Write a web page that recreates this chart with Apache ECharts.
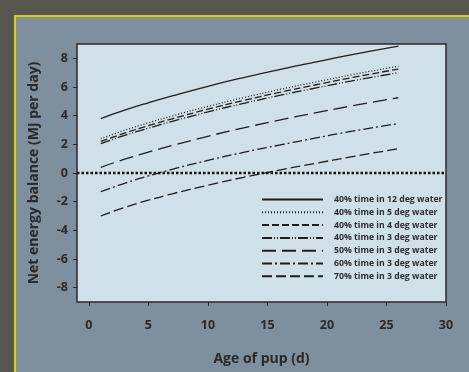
<!DOCTYPE html>
<html>
<head>
<meta charset="utf-8">
<script src="https://cdn.jsdelivr.net/npm/echarts@6/dist/echarts.min.js"></script>
<style>
html, body { margin: 0; padding: 0; background: #57564e; }
#panel { position: absolute; left: 14px; top: 15px; width: 455px; height: 357px;
  background: #7e8f9d; border-top: 2px solid #d6d20c; border-left: 2px solid #d6d20c; box-sizing: border-box; }
#chart { position: absolute; left: 0; top: 0; width: 469px; height: 372px; }
</style>
</head>
<body>
<div id="panel"></div>
<div id="chart"></div>
<script>
// age of pup (d)
var days = [1, 3, 5, 7, 10, 13, 16, 19, 22, 26];
// net energy balance (MJ per day) per scenario
var t40w12 = [3.8, 4.38, 4.9, 5.38, 6.05, 6.66, 7.22, 7.74, 8.24, 8.85];
var t40w5 = [2.4, 2.98, 3.5, 3.98, 4.65, 5.26, 5.82, 6.34, 6.84, 7.45];
var t40w4 = [2.2, 2.78, 3.3, 3.78, 4.45, 5.06, 5.62, 6.14, 6.64, 7.25];
var t40w3 = [2.05, 2.62, 3.13, 3.6, 4.26, 4.86, 5.41, 5.92, 6.41, 7.0];
var t50w3 = [0.4, 0.96, 1.46, 1.92, 2.56, 3.15, 3.69, 4.19, 4.67, 5.25];
var t60w3 = [-1.3, -0.72, -0.2, 0.26, 0.88, 1.44, 1.95, 2.43, 2.9, 3.45];
var t70w3 = [-3.0, -2.4, -1.9, -1.45, -0.85, -0.3, 0.2, 0.67, 1.12, 1.7];
var names = ['40% time in 12 deg water', '40% time in 5 deg water', '40% time in 4 deg water',
  '40% time in 3 deg water', '50% time in 3 deg water', '60% time in 3 deg water', '70% time in 3 deg water'];
var zeroX = [-1, 30];
var xTicks = [0, 5, 10, 15, 20, 25, 30];
var yTicks = [-8, -6, -4, -2, 0, 2, 4, 6, 8];

var allData = [t40w12, t40w5, t40w4, t40w3, t50w3, t60w3, t70w3];
var dashes = ['solid', [1, 2], [7, 3], [10, 2, 1, 2, 1, 2], [14, 6], [10, 3, 2, 3], [10, 4]];

var chart = echarts.init(document.getElementById('chart'));
var fontFam = '"Open Sans", Lato, sans-serif';

var series = [];
for (var i = 0; i < allData.length; i++) {
  var pts = [];
  for (var j = 0; j < days.length; j++) pts.push([days[j], allData[i][j]]);
  series.push({
    name: names[i],
    type: 'line',
    data: pts,
    smooth: true,
    symbol: 'none',
    lineStyle: { color: '#1e1e1e', width: 1.3, type: dashes[i] },
    itemStyle: { color: '#1e1e1e' }
  });
}
// dotted zero line
series.push({
  name: 'zero',
  type: 'line',
  data: [[zeroX[0], 0], [zeroX[1], 0]],
  symbol: 'none',
  silent: true,
  lineStyle: { color: '#111', width: 2.5, type: [2.5, 2] }
});

var option = {
  animation: false,
  grid: { left: 77, top: 44, right: 23, bottom: 70, backgroundColor: '#d0e0e8', show: true, borderColor: '#2a2a2a', borderWidth: 1.5 },
  legend: {
    data: names,
    orient: 'vertical',
    left: 261,
    top: 195,
    padding: 0,
    itemWidth: 61,
    itemHeight: 10,
    itemGap: 3.8,
    itemStyle: { opacity: 0 },
    textStyle: { fontFamily: fontFam, fontSize: 8.7, fontWeight: 'bold', color: '#2e2e2e', padding: [0, 0, 0, 6] }
  },
  xAxis: {
    type: 'value', min: -1, max: 30,
    name: 'Age of pup (d)', nameLocation: 'middle', nameGap: 50,
    nameTextStyle: { fontFamily: fontFam, fontSize: 14, fontWeight: 'bold', color: '#2a2a2a' },
    axisLine: { show: false, onZero: false },
    splitLine: { show: false },
    axisTick: { show: true, length: 4, lineStyle: { color: '#2a2a2a' }, customValues: xTicks },
    axisLabel: { margin: 17, fontFamily: fontFam, fontSize: 12.5, fontWeight: 'bold', color: '#2a2a2a', customValues: xTicks }
  },
  yAxis: {
    type: 'value', min: -9, max: 9,
    name: 'Net energy balance (MJ per day)', nameLocation: 'middle', nameGap: 36,
    nameTextStyle: { fontFamily: fontFam, fontSize: 14, fontWeight: 'bold', color: '#2a2a2a' },
    axisLine: { show: false, onZero: false },
    splitLine: { show: false },
    axisTick: { show: true, length: 4, lineStyle: { color: '#2a2a2a' }, customValues: yTicks },
    axisLabel: { margin: 9, fontFamily: fontFam, fontSize: 12.5, fontWeight: 'bold', color: '#2a2a2a', customValues: yTicks }
  },
  series: series
};
chart.setOption(option);
</script>
</body>
</html>
